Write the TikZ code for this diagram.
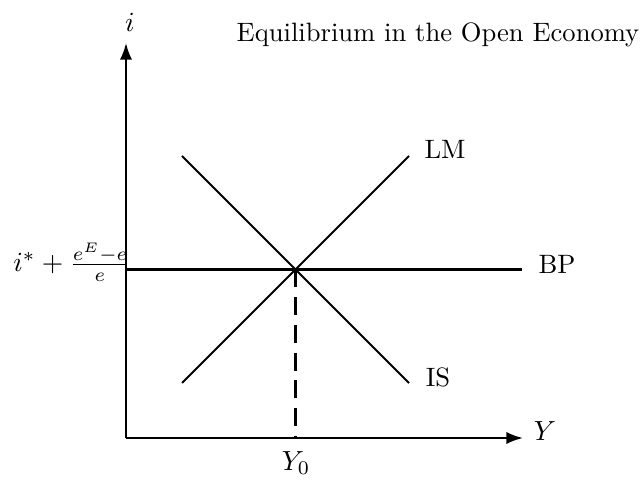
\documentclass[tikz,border=0pt]{standalone}
\usetikzlibrary{arrows.meta}
\begin{document}
\begin{tikzpicture}[x=0.0127cm,y=-0.0127cm,
  curve/.style={line width=0.75pt},
  axis/.style={line width=0.75pt,-{Latex[length=6pt,width=4.4pt]}},
  guide/.style={line width=0.75pt,dash pattern=on 6.5pt off 3.5pt},
  lbl/.style={inner sep=0pt,font=\fontsize{9.6pt}{11.5pt}\selectfont}]
\useasboundingbox (0,0) rectangle (642,484);
\coordinate (O) at (126,438);
\coordinate (ytip) at (126,43);
\coordinate (xtip) at (523,438);
\coordinate (bpL) at (126,269.5);
\coordinate (bpR) at (522,269.5);
\coordinate (lmA) at (182,383);
\coordinate (lmB) at (409,156);
\coordinate (isA) at (182,156);
\coordinate (isB) at (409,383);
\coordinate (E) at (295.5,269.5);
\coordinate (Y0) at (295.5,438);
\draw[axis] (O) -- (ytip);
\draw[axis] (O) -- (xtip);
\draw[curve] (bpL) -- (bpR);
\draw[curve] (lmA) -- (lmB);
\draw[curve] (isA) -- (isB);
\draw[guide] (E) -- (Y0);
\node[lbl] (ilab) at (130,22) {$i$};
\node[lbl] (Ylab) at (545,431) {$Y$};
\node[lbl] (title) at (438,35) {Equilibrium in the Open Economy};
\node[lbl] (LM) at (445,149) {LM};
\node[lbl] (BP) at (557,264) {BP};
\node[lbl] (IS) at (438,377) {IS};
\node[lbl] (Y0lab) at (296,463) {$Y_0$};
\node[lbl,anchor=east] (ilev) at (131,262) {$i^{*}+\frac{e^{E}-e}{e}$};
\end{tikzpicture}
\end{document}
